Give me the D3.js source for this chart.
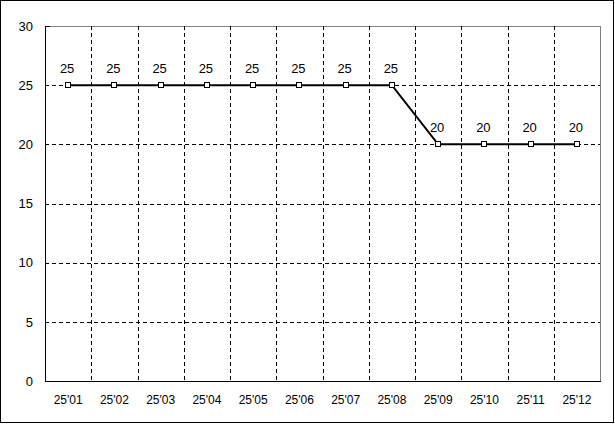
<!DOCTYPE html>
<html>
<head>
<meta charset="utf-8">
<script src="https://cdn.jsdelivr.net/npm/d3@7"></script>
<style>
  body { margin: 0; background: #fff; }
  svg { display: block; }
  text { font-family: "Liberation Sans", Arial, sans-serif; fill: #000; }
</style>
</head>
<body>
<div id="chart_area"></div>
<script>
// data
const months = ["25'01", "25'02", "25'03", "25'04", "25'05", "25'06", "25'07", "25'08", "25'09", "25'10", "25'11", "25'12"];
const rates = [25, 25, 25, 25, 25, 25, 25, 25, 20, 20, 20, 20];
const yTicks = [0, 5, 10, 15, 20, 25, 30];

// dimensions and margins
const W = 615, H = 424;
const margin = { top: 26, right: 15, bottom: 43, left: 45 };
const width = W - margin.left - margin.right;
const height = H - margin.top - margin.bottom;

const svg = d3.select('#chart_area').append('svg')
  .attr('width', W)
  .attr('height', H);

// outer frame
svg.append('rect')
  .attr('x', 0.5).attr('y', 0.5)
  .attr('width', W - 2).attr('height', H - 2)
  .attr('fill', 'none').attr('stroke', '#000');

const g = svg.append('g')
  .attr('transform', 'translate(' + margin.left + ',' + margin.top + ')');

// scales
const x = d3.scaleBand().domain(months).range([0, width]);
const y = d3.scaleLinear().domain([0, 30]).range([height, 0]);

// plot frame: top/right gray
g.append('line')
  .attr('x1', 0).attr('x2', width)
  .attr('y1', 0.5).attr('y2', 0.5)
  .attr('stroke', '#808080');
g.append('line')
  .attr('x1', width + 0.5).attr('x2', width + 0.5)
  .attr('y1', 0).attr('y2', height)
  .attr('stroke', '#808080');

// horizontal grid
g.selectAll('line.hgrid')
  .data(yTicks.filter(d => d > 0 && d < 30))
  .enter().append('line')
  .attr('class', 'hgrid')
  .attr('x1', 0).attr('x2', width)
  .attr('y1', d => Math.round(y(d)) + 0.5)
  .attr('y2', d => Math.round(y(d)) + 0.5)
  .attr('stroke', '#000')
  .attr('stroke-dasharray', '4,3');

// vertical grid at category boundaries
g.selectAll('line.vgrid')
  .data(months.slice(1))
  .enter().append('line')
  .attr('class', 'vgrid')
  .attr('x1', d => Math.round(x(d)) + 0.5)
  .attr('x2', d => Math.round(x(d)) + 0.5)
  .attr('y1', 0).attr('y2', height)
  .attr('stroke', '#000')
  .attr('stroke-dasharray', '4,3');

// axes lines
g.append('line')
  .attr('x1', 0.5).attr('x2', 0.5)
  .attr('y1', 0).attr('y2', height)
  .attr('stroke', '#000');
g.append('line')
  .attr('x1', 0).attr('x2', width + 1)
  .attr('y1', height + 0.5).attr('y2', height + 0.5)
  .attr('stroke', '#000');
// small tick at top left
g.append('line')
  .attr('x1', 0).attr('x2', 5)
  .attr('y1', 0.5).attr('y2', 0.5)
  .attr('stroke', '#000');

// y labels
g.selectAll('text.ylab')
  .data(yTicks)
  .enter().append('text')
  .attr('class', 'ylab')
  .attr('x', -12)
  .attr('y', d => y(d))
  .attr('dy', '0.36em')
  .attr('text-anchor', 'end')
  .attr('font-size', '13px')
  .text(d => d);

// x labels
g.selectAll('text.xlab')
  .data(months)
  .enter().append('text')
  .attr('class', 'xlab')
  .attr('x', d => x(d) + x.bandwidth() / 2)
  .attr('y', height + 23)
  .attr('text-anchor', 'middle')
  .attr('font-size', '12px')
  .text(d => d);

// line
const pts = months.map((m, i) => ({ m: m, v: rates[i] }));
g.append('path')
  .datum(pts)
  .attr('fill', 'none')
  .attr('stroke', '#000')
  .attr('stroke-width', 2)
  .attr('d', d3.line()
    .x(d => x(d.m) + x.bandwidth() / 2)
    .y(d => y(d.v)));

// markers
g.selectAll('rect.marker')
  .data(pts)
  .enter().append('rect')
  .attr('class', 'marker')
  .attr('x', d => Math.round(x(d.m) + x.bandwidth() / 2) - 2.5)
  .attr('y', d => Math.round(y(d.v)) - 2.5)
  .attr('width', 5).attr('height', 5)
  .attr('fill', '#fff')
  .attr('stroke', '#000');

// value labels
g.selectAll('text.value')
  .data(pts)
  .enter().append('text')
  .attr('class', 'value')
  .attr('x', d => x(d.m) + x.bandwidth() / 2 - 1)
  .attr('y', d => y(d.v) - 12)
  .attr('text-anchor', 'middle')
  .attr('font-size', '13px')
  .text(d => d.v);
</script>
</body>
</html>
